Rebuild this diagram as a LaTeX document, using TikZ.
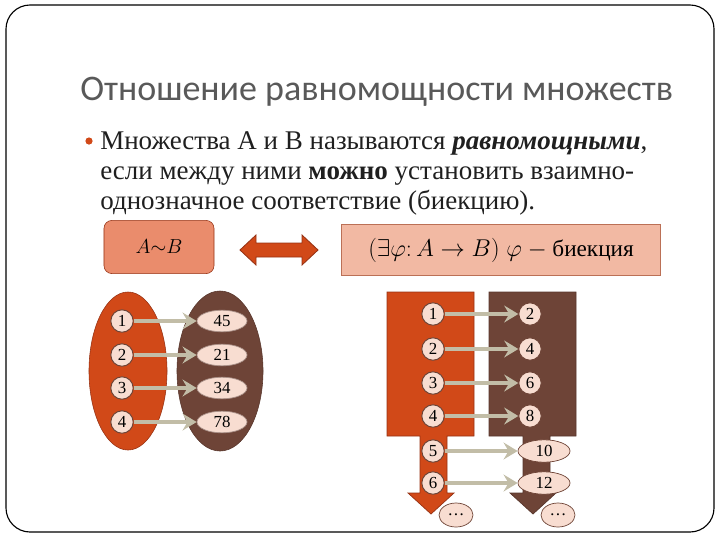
\documentclass[tikz,border=0pt]{standalone}
\usepackage{fontspec}
\setmainfont{Liberation Serif}
\newfontfamily\titlefont{Carlito}
\newfontfamily\bodyfont{Liberation Serif}
\usetikzlibrary{shapes.geometric,arrows.meta}
\definecolor{rust}{RGB}{209,73,24}
\definecolor{rustdark}{RGB}{150,50,20}
\definecolor{cocoa}{RGB}{110,68,55}
\definecolor{blush}{RGB}{248,221,209}
\definecolor{salmon}{RGB}{234,140,108}
\definecolor{peach}{RGB}{242,185,163}
\definecolor{khaki}{RGB}{194,189,167}
\definecolor{titlegrey}{RGB}{89,89,89}
\tikzset{
  bodyline/.style={anchor=base west, inner sep=0pt, text=black!88, font=\bodyfont\fontsize{19.2}{22}\selectfont},
  numc/.style={circle, draw=cocoa, line width=0.7pt, fill=blush, inner sep=0pt, minimum size=0.56cm, font=\fontsize{12}{12}\selectfont},
  nume/.style={ellipse, draw=cocoa!60, line width=0.5pt, fill=blush, inner sep=0pt, minimum width=1.25cm, minimum height=0.54cm, font=\fontsize{12}{12}\selectfont},
  maparrow/.style={draw=khaki, line width=2.8pt, -{Stealth[length=10pt,width=12pt,inset=3.5pt]}}
}

\begin{document}
\begin{tikzpicture}[x=0.025cm,y=-0.025cm]
	%%%%% START %%%%%
	\useasboundingbox (0,0) rectangle (720,540);
	\draw[line width=0.8pt, rounded corners=0.6cm] (6,5) rectangle (714,532);
	
	\node[anchor=base west, inner sep=0pt, text=titlegrey, font=\titlefont\fontsize{25.6}{30}\selectfont] (title) at (80,100) {Отношение равномощности множеств};
	
	\fill[rust] (89,141) circle (0.09cm);
	\node[bodyline] (line1) at (100,149) {Множества А и В называются \textbf{\textit{равномощными}},};
	\node[bodyline] (line2) at (100,179) {если между ними \textbf{можно} установить взаимно-};
	\node[bodyline] (line3) at (100,209) {однозначное соответствие (биекцию).};
	
	\node[draw=rustdark, fill=salmon, rounded corners=0.2cm, minimum width=2.75cm, minimum height=1.33cm, font=\fontsize{15}{15}\selectfont] (equiv) at (159,247) {$A{\sim}B$};
	\node[draw=salmon!80!black, fill=peach, minimum width=7.98cm, minimum height=1.28cm, font=\fontsize{16.5}{16.5}\selectfont] (bij) at (501,250) {$(\exists\varphi\colon A\rightarrow B)\;\varphi$ $-$ биекция};
	\draw[fill=rust, draw=rustdark, line width=0.6pt] (240,250) -- (256,235) -- (256,243) -- (302,243) -- (302,235) -- (318,250) -- (302,265) -- (302,257) -- (256,257) -- (256,265) -- cycle;
	
	% ellipses
	\node[ellipse, fill=rust, draw=rustdark, minimum width=1.95cm, minimum height=3.95cm] (setA) at (128,371) {};
	\node[ellipse, fill=cocoa, draw=cocoa!80!black, minimum width=2.15cm, minimum height=4cm] (setB) at (220,371) {};
	\foreach \i/\y/\v in {1/321/45, 2/355/21, 3/388/34, 4/422/78} {
		\node[numc] (a\i) at (122,\y) {\i};
		\node[nume] (b\i) at (222,\y) {\v};
		\draw[maparrow] (a\i) -- (b\i);
	}
	
	% blocks
	\draw[fill=rust, draw=rustdark, line width=0.5pt] (387,292) -- (474,292) -- (474,436) -- (447,436) -- (447,493) -- (454,493) -- (431,514) -- (408,493) -- (420,493) -- (420,436) -- (387,436) -- cycle;
	\draw[fill=cocoa, draw=cocoa!80!black, line width=0.5pt] (489,292) -- (576,292) -- (576,436) -- (550,436) -- (550,493) -- (556,493) -- (533,514) -- (510,493) -- (523,493) -- (523,436) -- (489,436) -- cycle;
	\foreach \i/\y in {1/314, 2/349, 3/383, 4/416, 5/451, 6/483}
		\node[numc] (c\i) at (433,\y) {\i};
	\foreach \i/\y/\v in {1/314/2, 2/349/4, 3/383/6, 4/416/8}
		\node[numc] (d\i) at (530,\y) {\v};
	\node[nume, draw=cocoa, minimum width=1.3cm, minimum height=0.56cm] (d5) at (544,451) {10};
	\node[nume, draw=cocoa, minimum width=1.3cm, minimum height=0.56cm] (d6) at (544,483) {12};
	\node[nume, draw=cocoa, minimum width=0.85cm, minimum height=0.6cm] (e1) at (456,515) {\dots};
	\node[nume, draw=cocoa, minimum width=0.85cm, minimum height=0.6cm] (e2) at (558,515) {\dots};
	\foreach \i in {1,...,6}
		\draw[maparrow] (c\i) -- (d\i);
	%%%%% END %%%%%
\end{tikzpicture}
\end{document}
